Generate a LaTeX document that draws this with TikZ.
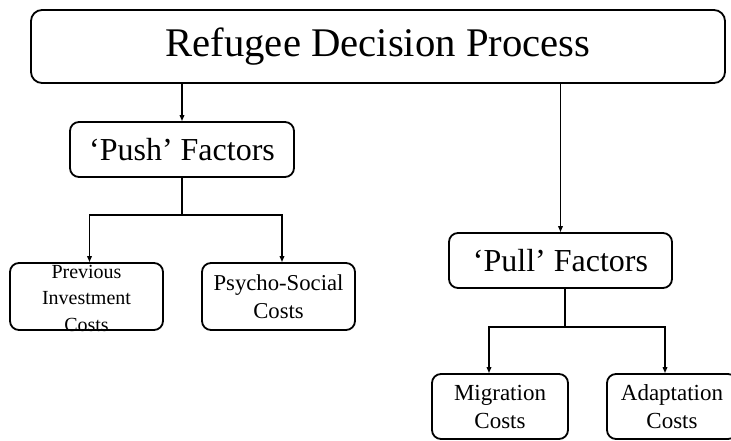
\documentclass[tikz,border=0pt]{standalone}
\usepackage{fontspec}
\setmainfont{Liberation Serif}
\usetikzlibrary{arrows.meta,calc}
\begin{document}
\begin{tikzpicture}[x=1pt,y=-1pt,
  box/.style={draw,line width=1.8pt,rounded corners=9pt,inner sep=0pt,align=center},
  ln/.style={line width=1.6pt},
  arr/.style={ln,-{Triangle[length=6pt,width=4.5pt]}}]
\useasboundingbox (0,0) rectangle (731,440);
\clip (0,0) rectangle (731,440);
\node[box,rounded corners=11pt,minimum width=694pt,minimum height=73pt,font=\fontsize{40.7}{48}\selectfont] (top) at (378,46.5) {Refugee Decision Process};
\node[box,minimum width=224pt,minimum height=55pt,font=\fontsize{32}{38}\selectfont] (push) at (182,149.5) {‘Push’ Factors};
\node[box,minimum width=223pt,minimum height=55pt,font=\fontsize{32}{38}\selectfont] (pull) at (560.5,260.5) {‘Pull’ Factors};
\node[box,minimum width=153pt,minimum height=67pt] (prev) at (86.5,296.5) {};
\node[align=center,inner sep=0pt,font=\fontsize{20}{26.5}\selectfont] (prevt) at ($(prev.center)+(0,1.5)$) {Previous\\Investment\\Costs};
\node[box,minimum width=153pt,minimum height=67pt,font=\fontsize{22.7}{28}\selectfont] (psy) at (278.5,296.5) {Psycho-Social\\Costs};
\node[box,minimum width=136pt,minimum height=65pt,font=\fontsize{23}{28}\selectfont] (mig) at (500,406.5) {Migration\\Costs};
\node[box,minimum width=130pt,minimum height=65pt,font=\fontsize{23}{28}\selectfont] (adp) at (672,406.5) {Adaptation\\Costs};
\coordinate (pushj) at (182,215);
\coordinate (pullj) at (565,327);
\draw[arr] (top.south -| push.north) -- (push.north);
\draw[arr] (top.south -| pull.north) -- (pull.north);
\draw[ln] (push.south) -- (pushj);
\draw[arr] (pushj) -| ($(prev.north)+(3,0)$);
\draw[arr] (pushj) -| ($(psy.north)+(3.5,0)$);
\draw[ln] (pull.south -| pullj) -- (pullj);
\draw[arr] (pullj) -| ($(mig.north)+(-11,0)$);
\draw[arr] (pullj) -| ($(adp.north)+(-7,0)$);
\end{tikzpicture}
\end{document}
